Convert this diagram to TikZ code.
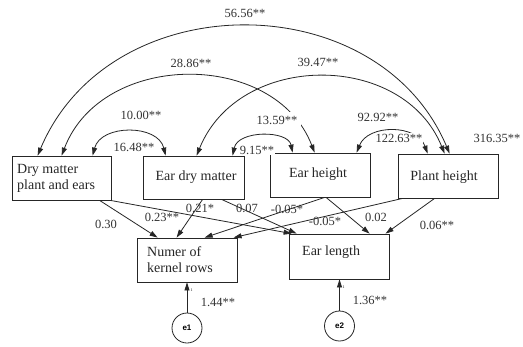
\documentclass[tikz,border=0pt]{standalone}
\usepackage{fontspec}
\setmainfont{Liberation Serif}
\newfontfamily\esans{Liberation Sans}
\usetikzlibrary{arrows.meta}
\begin{document}
\begin{tikzpicture}[x=1pt,y=-1pt,
  box/.style={draw=black!85, line width=0.8pt, inner sep=0pt},
  btxt/.style={font=\fontsize{14}{16}\selectfont, inner sep=0pt, align=left, text=black!85},
  lab/.style={font=\fontsize{12.5}{14}\selectfont, inner sep=1pt, text=black!80},
  wlab/.style={lab, fill=white},
  pth/.style={line width=0.8pt, draw=black!85, -{Triangle[length=8pt,width=5pt]}},
  cov/.style={line width=0.8pt, draw=black!85, {Triangle[length=8pt,width=5pt]}-{Triangle[length=8pt,width=5pt]}},
  err/.style={circle, draw=black!85, line width=0.8pt, minimum size=30pt, inner sep=0pt, font=\esans\bfseries\fontsize{8}{9}\selectfont},
  tiny1/.style={font=\fontsize{4}{4}\selectfont, inner sep=0pt}]

\useasboundingbox (0,0) rectangle (523,346);
\fill[white] (0,0) rectangle (523,346);

% boxes
\node[box, minimum width=99pt, minimum height=44pt] (dm) at (61.5,178) {};
\node[box, minimum width=101pt, minimum height=43pt] (edm) at (193.5,177.5) {};
\node[box, minimum width=100pt, minimum height=44pt] (eh) at (320.5,175) {};
\node[box, minimum width=100pt, minimum height=44pt] (ph) at (448,176) {};
\node[box, minimum width=100pt, minimum height=44pt] (nkr) at (187,260) {};
\node[box, minimum width=100pt, minimum height=45pt] (el) at (339,256.5) {};
\node[err] (e1) at (187,328) {e1};
\node[err] (e2) at (339.5,326) {e2};

% box texts
\node[btxt, anchor=west] (dmt) at (17,178) {Dry matter\\plant and ears};
\node[btxt] (edmt) at (196,177) {Ear dry matter};
\node[btxt] (eht) at (318,174) {Ear height};
\node[btxt] (pht) at (444,177) {Plant height};
\node[btxt, anchor=west] (nkrt) at (147,260) {Numer of\\kernel rows};
\node[btxt, anchor=west] (elt) at (302,252) {Ear length};

% covariance curves
\draw[cov] ([xshift=26pt]dm.north west) .. controls (110,-16) and (378,-16) .. ([xshift=52pt]ph.north west);
\draw[cov] ([xshift=50pt]dm.north west) .. controls (102,50) and (275,50) .. ([xshift=44.5pt]eh.north west);
\draw[cov] ([xshift=54pt]edm.north west) .. controls (239,51) and (403,51) .. ([xshift=47pt]ph.north west);
\draw[cov] ([xshift=81pt]dm.north west) .. controls (101,124) and (158,124) .. ([xshift=23pt]edm.north west);
\draw[cov] ([xshift=90pt]edm.north west) .. controls (238,130) and (288,130) .. ([xshift=22.5pt]eh.north west);
\draw[cov] ([xshift=86.5pt]eh.north west) .. controls (368,124) and (417,124) .. ([xshift=30pt]ph.north west);

% paths
\draw[pth] ([xshift=88pt]dm.south west) -- ([xshift=21pt]nkr.north west);
\draw[pth] ([xshift=-1pt]dm.south east) -- ([xshift=3pt]el.north west);
\draw[pth] ([xshift=60pt]edm.south west) -- ([xshift=40pt]nkr.north west);
\draw[pth] ([xshift=79pt]edm.south west) -- ([xshift=8pt]el.north west);
\draw[pth] ([xshift=54.5pt]eh.south west) -- ([xshift=68pt]nkr.north west);
\draw[pth] ([xshift=5pt]ph.south west) -- ([xshift=97pt]nkr.north west);
\draw[pth] ([xshift=56pt]eh.south west) -- ([xshift=81pt]el.north west);
\draw[pth] ([xshift=37pt]ph.south west) -- ([xshift=97pt]el.north west);
\draw[pth] (e1.north) -- (nkr.south);
\draw[pth] (e2.north) -- ([xshift=0.5pt]el.south);
\node[tiny1] (one1) at (191.5,290) {1};
\node[tiny1] (one2) at (343.5,287) {1};

% labels
\node[lab] (l1) at (245,13) {56.56**};
\node[lab] (l2) at (191,63) {28.86**};
\node[lab] (l3) at (318,62) {39.47**};
\node[lab] (l4) at (141,115) {10.00**};
\node[lab] (l5) at (134,147) {16.48**};
\node[wlab, inner xsep=4pt, inner ysep=4pt] (l6) at (277,120) {13.59**};
\node[wlab] (l7) at (257,150) {9.15**};
\node[lab] (l8) at (378,117) {92.92**};
\node[wlab] (l9) at (399,138) {122.63**};
\node[lab] (l10) at (497,138) {316.35**};
\node[lab] (l11) at (106,224) {0.30};
\node[lab] (l12) at (162,217) {0.23**};
\node[lab] (l13) at (200,208) {0.21*};
\node[lab] (l14) at (247,208) {0.07};
\node[lab] (l15) at (287,209) {-0.05*};
\node[lab] (l16) at (325,221) {-0.05*};
\node[lab] (l17) at (376,217) {0.02};
\node[lab] (l18) at (437,225) {0.06**};
\node[lab] (l19) at (218,302) {1.44**};
\node[lab] (l20) at (370,300) {1.36**};
\end{tikzpicture}
\end{document}
